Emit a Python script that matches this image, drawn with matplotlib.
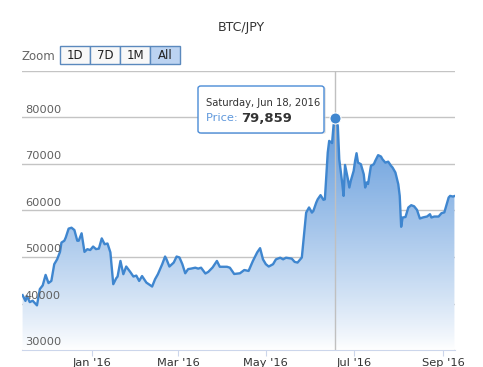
import numpy as np
import pandas as pd
import matplotlib
matplotlib.use("Agg")
import matplotlib.pyplot as plt
import matplotlib.dates as mdates
from matplotlib.patches import Rectangle, FancyBboxPatch
from matplotlib.colors import LinearSegmentedColormap

# day offsets from 2016-01-01 and the BTC/JPY price
days = [-48, -46, -45, -43, -41, -38, -36, -34, -32, -30, -28, -26, -24, -22, -21,
        -19, -18, -16, -14, -12, -10, -9, -7, -5, -3, -1, 1, 3, 5, 7, 9, 11, 13, 15,
        17, 18, 20, 22, 24, 27, 29, 31, 33, 35, 38, 42, 44, 46, 49, 51, 52, 54, 57,
        59, 61, 63, 65, 67, 69, 72, 74, 76, 79, 81, 84, 87, 89, 94, 96, 99, 103, 106,
        109, 112, 115, 117, 119, 121, 123, 126, 128, 131, 133, 135, 139, 141, 143,
        146, 147, 149, 151, 153, 154, 156, 157, 159, 161, 162, 164, 165, 167, 168,
        169, 171, 172, 174, 175, 176, 178, 179, 180, 182, 183, 184, 185, 187, 189,
        190, 191, 192, 194, 196, 197, 199, 201, 202, 204, 206, 208, 209, 211, 213,
        214, 215, 216, 218, 220, 222, 224, 226, 228, 230, 233, 235, 236, 238, 241,
        243, 245, 246, 248, 249, 251, 252]
price = [41800, 40560, 41600, 40300, 40600, 39600, 43100, 43900, 46150, 44400, 44860,
         48450, 49500, 51100, 53100, 53500, 54200, 56100, 56300, 55800, 53500, 53500,
         55100, 51100, 51680, 51500, 52250, 51700, 51800, 54000, 52750, 52900, 51000,
         44150, 45400, 45800, 49150, 46300, 47950, 46700, 45800, 46000, 44850, 45900,
         44500, 43650, 45200, 46300, 48450, 50100, 49500, 47950, 48800, 50100, 49900,
         48450, 46500, 47400, 47500, 47700, 47500, 47700, 46450, 46800, 47750, 49150,
         47900, 47900, 47700, 46350, 46500, 47200, 47000, 49150, 51000, 51900, 49500,
         48450, 47950, 48450, 49500, 49850, 49500, 49850, 49650, 48950, 48800, 49900,
         53100, 59550, 60650, 59550, 59900, 61700, 62400, 63300, 62300, 62400, 72470,
         74970, 74500, 78200, 79859, 78200, 71000, 66000, 63140, 69800, 66730, 64950,
         66370, 68520, 70670, 72320, 70300, 69960, 67800, 64950, 66020, 65700, 69600,
         69960, 70670, 71900, 71600, 71030, 70300, 70500, 69600, 69250, 68170, 65650,
         63140, 56500, 58490, 58600, 60650, 61140, 60900, 60130, 58280, 58500, 58710,
         59200, 58500, 58700, 58700, 59420, 59600, 60650, 62800, 63140, 63000, 63100]
y_ticks = [30000, 40000, 50000, 60000, 70000, 80000, 90000]
buttons = ["1D", "7D", "1M", "All"]
peak_label = "Saturday, Jun 18, 2016"

base = pd.Timestamp("2016-01-01")
dates = mdates.date2num(base + pd.to_timedelta(days, unit="D"))
price = np.array(price)

W, H = 483, 367
fig = plt.figure(figsize=(W / 100, H / 100), dpi=100)

def fx(x):
    return x / W

def fy(y):
    return 1 - y / H

ax = fig.add_axes([fx(22), fy(350), fx(455) - fx(22), fy(71) - fy(350)])
x0 = mdates.date2num(base - pd.Timedelta(days=48.4))
x1 = mdates.date2num(base + pd.Timedelta(days=252.4))
ax.set_xlim(x0, x1)
ax.set_ylim(30000, 90000)

line_c = "#3f86cf"
fill_c = "#4a8bd6"

# gradient fill under the line
poly = ax.fill_between(dates, price, 30000, color="none", lw=0)
cmap = LinearSegmentedColormap.from_list("g", ["#ffffff", fill_c])
grad = np.linspace(0, 1, 256).reshape(-1, 1) ** 0.85
im = ax.imshow(grad, cmap=cmap, aspect="auto", origin="lower",
               extent=[x0, x1, 30000, 90000], zorder=1)
im.set_clip_path(poly.get_paths()[0], transform=ax.transData)

ax.plot(dates, price, color=line_c, lw=1.7, zorder=3, solid_joinstyle="round")

for s in ["top", "left", "right"]:
    ax.spines[s].set_visible(False)
ax.spines["bottom"].set_color("#ccd6eb")
ax.set_yticks(y_ticks)
ax.yaxis.grid(True, color="#c4c4c4", lw=1)
ax.set_axisbelow(True)
ax.tick_params(axis="y", left=False, labelleft=False)
for v in y_ticks[:-1]:
    ax.annotate(f"{v}", (0, v), xycoords=ax.get_yaxis_transform(),
                xytext=(2, 2), textcoords="offset points", ha="left", va="bottom",
                fontsize=8.2, color="#606060", zorder=5)

ax.xaxis.set_major_locator(mdates.MonthLocator(bymonth=[1, 3, 5, 7, 9]))
ax.xaxis.set_major_formatter(mdates.DateFormatter("%b '%y"))
ax.tick_params(axis="x", length=4, color="#ccd6eb", labelsize=8.2,
               labelcolor="#333333", pad=1.5)

# crosshair and hovered point
i_peak = int(np.argmax(price))
ax.axvline(dates[i_peak], color="#c0c0c0", lw=1, zorder=2)
ax.plot(dates[i_peak], price[i_peak], "o", ms=8, color=line_c, mec="white",
        mew=0.8, zorder=6, clip_on=False)

# title
fig.text(fx(241), fy(27), "BTC/JPY", ha="center", va="center", fontsize=9,
         color="#333333")

# range selector
fig.text(fx(22), fy(56), "Zoom", ha="left", va="center", fontsize=8.5,
         color="#666666")
for k, b in enumerate(buttons):
    bx = 60 + 30 * k
    face = "#bcd3f1" if b == "All" else "#f8f8f8"
    fig.add_artist(Rectangle((fx(bx), fy(64)), fx(30), fy(46) - fy(64),
                             transform=fig.transFigure, facecolor=face,
                             edgecolor="#5b89bd", lw=1))
    fig.text(fx(bx + 15), fy(55.5), b, ha="center", va="center", fontsize=8.5,
             color="#222222")

# tooltip
fig.add_artist(FancyBboxPatch((fx(200), fy(134)), fx(126), fy(87) - fy(134),
                              boxstyle="round,pad=0,rounding_size=0.006",
                              transform=fig.transFigure, facecolor="#d8d8d8",
                              edgecolor="none", alpha=0.6))
fig.add_artist(FancyBboxPatch((fx(198), fy(133)), fx(126), fy(86) - fy(133),
                              boxstyle="round,pad=0,rounding_size=0.006",
                              transform=fig.transFigure, facecolor="white",
                              edgecolor=fill_c, lw=1))
fig.text(fx(206), fy(102.5), peak_label, ha="left", va="center", fontsize=7.2,
         color="#333333")
t = fig.text(fx(206), fy(118), "Price: ", ha="left", va="center", fontsize=8.2,
             color="#5f98dc")
fig.canvas.draw()
bb = t.get_window_extent()
fig.text(bb.x1 / W, fy(118), f"{price[i_peak]:,}", ha="left", va="center",
         fontsize=9.5, fontweight="bold", color="#333333")

fig.savefig("out.png", dpi=100)
